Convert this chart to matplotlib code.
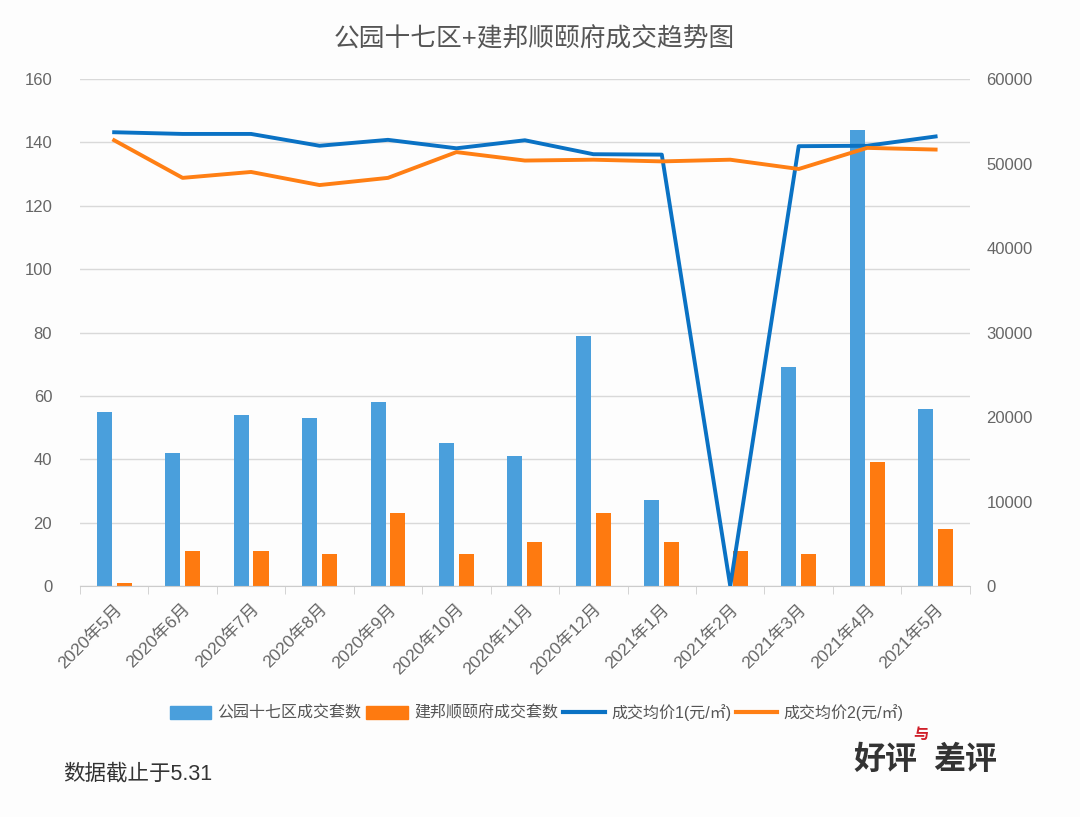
import matplotlib
matplotlib.use("Agg")
import matplotlib.pyplot as plt
import numpy as np
from matplotlib.lines import Line2D
from matplotlib.patches import Patch

plt.rcParams['font.family'] = ['Liberation Sans', 'Noto Sans CJK SC', 'DejaVu Sans']

months = ["2020年5月", "2020年6月", "2020年7月", "2020年8月", "2020年9月", "2020年10月",
          "2020年11月", "2020年12月", "2021年1月", "2021年2月", "2021年3月", "2021年4月", "2021年5月"]
sales_a = [55, 42, 54, 53, 58, 45, 41, 79, 27, 0, 69, 144, 56]
sales_b = [1, 11, 11, 10, 23, 10, 14, 23, 14, 11, 10, 39, 18]
price_a = [53700, 53500, 53500, 52100, 52800, 51800, 52750, 51100, 51050, 0, 52050, 52100, 53200]
price_b = [52750, 48300, 49000, 47450, 48300, 51350, 50350, 50450, 50250, 50450, 49350, 51850, 51650]

names = ["公园十七区成交套数", "建邦顺颐府成交套数", "成交均价1(元/㎡)", "成交均价2(元/㎡)"]
c_bar_a = "#4a9fdc"
c_bar_b = "#fe7a10"
c_line_a = "#0a72c4"
c_line_b = "#ff7f14"
grey = "#666666"

fig = plt.figure(figsize=(10.8, 8.17), dpi=100)
fig.patch.set_facecolor("#fdfdfd")
ax = fig.add_axes([0.074, 0.2827, 0.824, 0.6206])
ax.set_facecolor("#fdfdfd")
x = np.arange(len(months))
w = 0.22
ax.bar(x - 0.145, sales_a, width=w, color=c_bar_a, zorder=2)
ax.bar(x + 0.145, sales_b, width=w, color=c_bar_b, zorder=2)
ax.set_ylim(0, 160)
ax.set_yticks(range(0, 161, 20))
ax.set_xlim(-0.5, len(months) - 0.5)
ax.grid(axis='y', color="#d9d9d9", linewidth=1, zorder=0)
for s in ["top", "right", "left"]:
    ax.spines[s].set_visible(False)
ax.spines["bottom"].set_color("#cccccc")
ax.tick_params(axis='y', length=0, labelsize=12, labelcolor=grey, pad=20)
ax.set_xticks(x)
ax.set_xticklabels(months, rotation=45, ha='right', va='top', rotation_mode='anchor')
ax.tick_params(axis='x', length=0, labelsize=12.5, labelcolor=grey, pad=11)
ax.set_xticks(np.arange(-0.5, len(months) + 0.5, 1), minor=True)
ax.tick_params(axis='x', which='minor', length=6, color="#cccccc")

ax2 = ax.twinx()
ax2.plot(x, price_a, color=c_line_a, linewidth=2.8, zorder=3, solid_joinstyle='round')
ax2.plot(x, price_b, color=c_line_b, linewidth=2.8, zorder=3, solid_joinstyle='round')
ax2.set_ylim(0, 60000)
ax2.set_yticks(range(0, 60001, 10000))
for s in ["top", "right", "left", "bottom"]:
    ax2.spines[s].set_visible(False)
ax2.tick_params(axis='y', length=0, labelsize=12, labelcolor=grey, pad=12)

fig.text(0.495, 0.952, "公园十七区+建邦顺颐府成交趋势图", ha='center', va='center',
         fontsize=18.5, color="#555555")

handles = [Patch(color=c_bar_a), Patch(color=c_bar_b),
           Line2D([], [], color=c_line_a, linewidth=3),
           Line2D([], [], color=c_line_b, linewidth=3)]
fig.legend(handles, names, loc='center', bbox_to_anchor=(0.497, 0.128), ncol=4, frameon=False,
           fontsize=11.5, labelcolor="#555555", handlelength=2.6, handletextpad=0.4,
           columnspacing=0.3, handleheight=0.9)

fig.text(0.058, 0.053, "数据截止于5.31", ha='left', va='center', fontsize=15.5, color="#333333")

fig.text(0.79, 0.07, "好评", ha='left', va='center', fontsize=23, color="#333333",
         fontweight='bold', style='italic', family=['Noto Sans CJK SC'])
fig.text(0.846, 0.102, "与", ha='left', va='center', fontsize=11, color="#d0202a",
         fontweight='bold', family=['Noto Sans CJK SC'])
fig.text(0.864, 0.07, "差评", ha='left', va='center', fontsize=23, color="#333333",
         fontweight='bold', style='italic', family=['Noto Sans CJK SC'])

fig.savefig("out.png", dpi=100, facecolor=fig.get_facecolor())
